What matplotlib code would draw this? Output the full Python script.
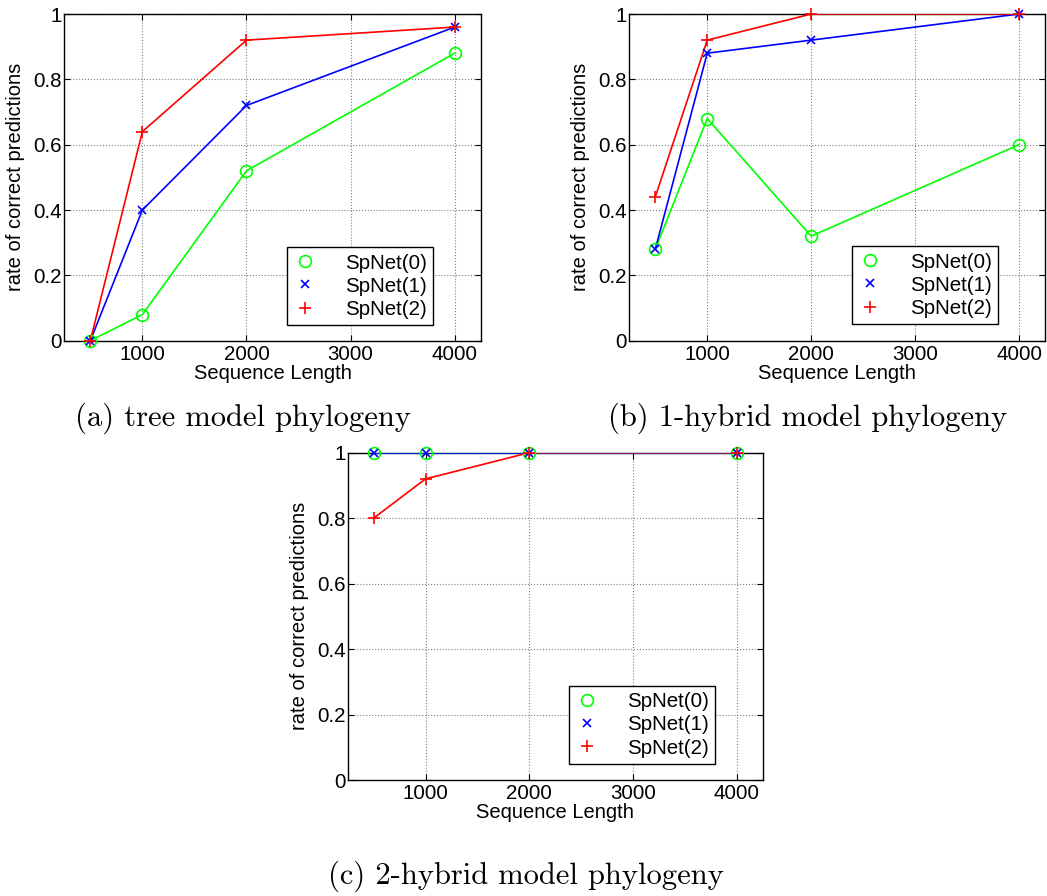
import matplotlib
matplotlib.use('Agg')
from matplotlib import pyplot as plt

plt.rcParams['font.family'] = ['Liberation Sans', 'DejaVu Sans']

# Data
seq_len = [500, 1000, 2000, 4000]

tree_sp0 = [0.0, 0.08, 0.52, 0.88]
tree_sp1 = [0.0, 0.40, 0.72, 0.96]
tree_sp2 = [0.0, 0.64, 0.92, 0.96]

hyb1_sp0 = [0.28, 0.68, 0.32, 0.60]
hyb1_sp1 = [0.28, 0.88, 0.92, 1.0]
hyb1_sp2 = [0.44, 0.92, 1.0, 1.0]

hyb2_sp0 = [1.0, 1.0, 1.0, 1.0]
hyb2_sp1 = [1.0, 1.0, 1.0, 1.0]
hyb2_sp2 = [0.80, 0.92, 1.0, 1.0]

labels = ['SpNet(0)', 'SpNet(1)', 'SpNet(2)']
captions = ['(a) tree model phylogeny', '(b) 1-hybrid model phylogeny',
	'(c) 2-hybrid model phylogeny']
xticks = [1000, 2000, 3000, 4000]
yticks = [0, 0.2, 0.4, 0.6, 0.8, 1.0]
ytick_labels = ['0', '0.2', '0.4', '0.6', '0.8', '1']

W, H = 1047, 896
fig = plt.figure(figsize=(W / 100, H / 100), dpi=100)


def px_axes(left, top, right, bottom):
	# axes placed by pixel edges of the reference
	return fig.add_axes([left / W, 1 - bottom / H, (right - left) / W, (bottom - top) / H])


def draw_panel(ax, series, leg_pos):
	styles = [('#00ff00', 'o', 8.5), ('#0000ff', 'x', 6), ('#ff0000', '+', 8.5)]
	for ys, lab, (c, m, ms) in zip(series, labels, styles):
		# lines without label, markers with label -> legend shows markers only
		ax.plot(seq_len, ys, color=c, lw=1.2, zorder=3)
		ax.plot(seq_len, ys, ls='none', marker=m, ms=ms, mfc='none', mec=c,
			mew=1.2, label=lab, zorder=4, clip_on=False)
	ax.set_xlim(250, 4250)
	ax.set_ylim(0, 1)
	ax.set_xticks(xticks)
	ax.set_yticks(yticks)
	ax.set_yticklabels(ytick_labels)
	ax.grid(True, ls=':', color='#808080', lw=0.8)
	ax.set_axisbelow(True)
	ax.tick_params(direction='in', top=True, right=True, length=4, width=0.8,
		labelsize=14.8, colors='black')
	ax.tick_params(axis='y', pad=1.5)
	ax.tick_params(axis='x', pad=3)
	for sp in ax.spines.values():
		sp.set_linewidth(1.0)
	ax.set_xlabel('Sequence Length', fontsize=14.5, labelpad=0)
	ax.set_ylabel('rate of correct predictions', fontsize=14.5, labelpad=6)
	leg = ax.legend(loc='upper left', bbox_to_anchor=leg_pos, borderaxespad=0,
		fancybox=False, edgecolor='black', framealpha=1, fontsize=14.8,
		handlelength=1.1, handletextpad=1.4, labelspacing=0.2, borderpad=0.32)
	leg.get_frame().set_linewidth(1.0)


ax_a = px_axes(64.3, 14, 480.7, 340.7)
draw_panel(ax_a, [tree_sp0, tree_sp1, tree_sp2], (0.535, 0.287))

ax_b = px_axes(629.3, 14, 1045, 340.7)
draw_panel(ax_b, [hyb1_sp0, hyb1_sp1, hyb1_sp2], (0.535, 0.290))

ax_c = px_axes(347.7, 452.7, 762.7, 780)
draw_panel(ax_c, [hyb2_sp0, hyb2_sp1, hyb2_sp2], (0.533, 0.288))

cap_font = ['cmr10', 'DejaVu Serif']
fig.text(243 / W, 1 - 418 / H, captions[0], ha='center', va='center', fontsize=22, family=cap_font)
fig.text(808 / W, 1 - 418 / H, captions[1], ha='center', va='center', fontsize=22, family=cap_font)
fig.text(526 / W, 1 - 876 / H, captions[2], ha='center', va='center', fontsize=22, family=cap_font)

fig.savefig('out.png', dpi=100)
